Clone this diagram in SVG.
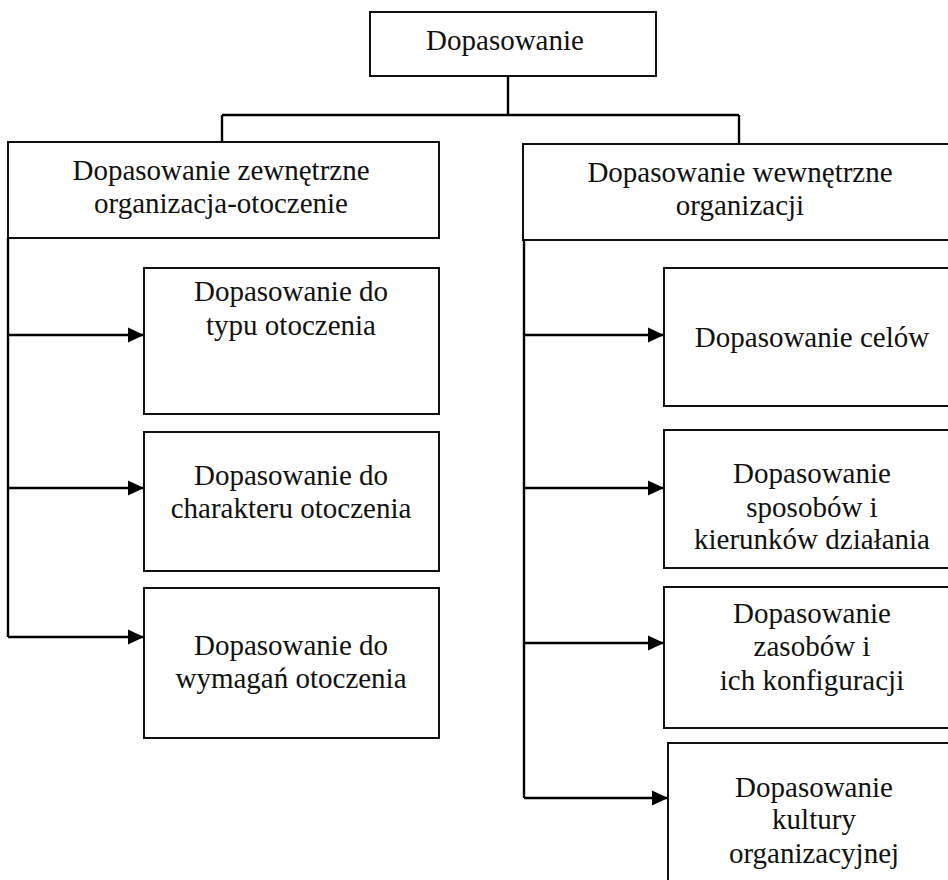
<svg xmlns="http://www.w3.org/2000/svg" width="948" height="880" viewBox="0 0 948 880">
  <style>
    .box { fill: #ffffff; stroke: #111111; stroke-width: 2; }
    .lbl { font-size: 29px; fill: #111111; text-anchor: middle; }
    .wire { fill: none; stroke: #000000; stroke-width: 2.4; }
    .arrow { fill: none; stroke: #000000; stroke-width: 2.4; marker-end: url(#head); }
  </style>
  <defs>
    <marker id="head" markerUnits="userSpaceOnUse" markerWidth="16" markerHeight="16" viewBox="0 0 16 16" refX="16" refY="8" orient="auto">
      <path d="M0,0.5 L16,8 L0,15.5 Z" fill="#000000"/>
    </marker>
  </defs>
  <rect width="948" height="880" fill="#ffffff"/>

  <g id="connectors">
    <!-- tree from the root to the two branches -->
    <path class="wire" d="M508,76 V115"/>
    <path class="wire" d="M222,115 H739"/>
    <path class="wire" d="M222,115 V142"/>
    <path class="wire" d="M739,115 V144"/>
    <!-- external branch spine and arrows -->
    <path class="wire" d="M8,238 V637"/>
    <path class="arrow" d="M8,335 H144"/>
    <path class="arrow" d="M8,488 H144"/>
    <path class="arrow" d="M8,637 H144"/>
    <!-- internal branch spine and arrows -->
    <path class="wire" d="M524,240 V798"/>
    <path class="arrow" d="M524,335 H664"/>
    <path class="arrow" d="M524,488 H664"/>
    <path class="arrow" d="M524,643 H664"/>
    <path class="arrow" d="M524,798 H668"/>
  </g>

  <g font-family="'Liberation Serif', 'Times New Roman', Times, serif">
  <g id="root">
    <rect class="box" x="370" y="12" width="286" height="64"/>
    <text class="lbl" x="505" y="50">Dopasowanie</text>
  </g>

  <g id="external">
    <rect class="box" x="8" y="142" width="431" height="96"/>
    <text class="lbl" x="221" y="180">Dopasowanie zewnętrzne</text>
    <text class="lbl" x="221" y="213">organizacja-otoczenie</text>
  </g>

  <g id="internal">
    <rect class="box" x="523" y="144" width="440" height="96"/>
    <text class="lbl" x="740" y="182">Dopasowanie wewnętrzne</text>
    <text class="lbl" x="740" y="215">organizacji</text>
  </g>

  <g id="ext-type">
    <rect class="box" x="144" y="268" width="295" height="146"/>
    <text class="lbl" x="291" y="301">Dopasowanie do</text>
    <text class="lbl" x="291" y="335">typu otoczenia</text>
  </g>

  <g id="ext-character">
    <rect class="box" x="144" y="432" width="295" height="139"/>
    <text class="lbl" x="291" y="485">Dopasowanie do</text>
    <text class="lbl" x="291" y="518">charakteru otoczenia</text>
  </g>

  <g id="ext-requirements">
    <rect class="box" x="144" y="588" width="295" height="150"/>
    <text class="lbl" x="291" y="655">Dopasowanie do</text>
    <text class="lbl" x="291" y="688">wymagań otoczenia</text>
  </g>

  <g id="int-goals">
    <rect class="box" x="664" y="268" width="300" height="138"/>
    <text class="lbl" x="812" y="347">Dopasowanie celów</text>
  </g>

  <g id="int-methods">
    <rect class="box" x="664" y="430" width="300" height="138"/>
    <text class="lbl" x="812" y="483">Dopasowanie</text>
    <text class="lbl" x="812" y="517">sposobów i</text>
    <text class="lbl" x="812" y="549">kierunków działania</text>
  </g>

  <g id="int-resources">
    <rect class="box" x="664" y="587" width="300" height="141"/>
    <text class="lbl" x="812" y="623">Dopasowanie</text>
    <text class="lbl" x="812" y="656">zasobów i</text>
    <text class="lbl" x="812" y="690">ich konfiguracji</text>
  </g>

  <g id="int-culture">
    <rect class="box" x="668" y="743" width="300" height="160"/>
    <text class="lbl" x="814" y="797">Dopasowanie</text>
    <text class="lbl" x="814" y="829">kultury</text>
    <text class="lbl" x="814" y="863">organizacyjnej</text>
  </g>
  </g>
</svg>
